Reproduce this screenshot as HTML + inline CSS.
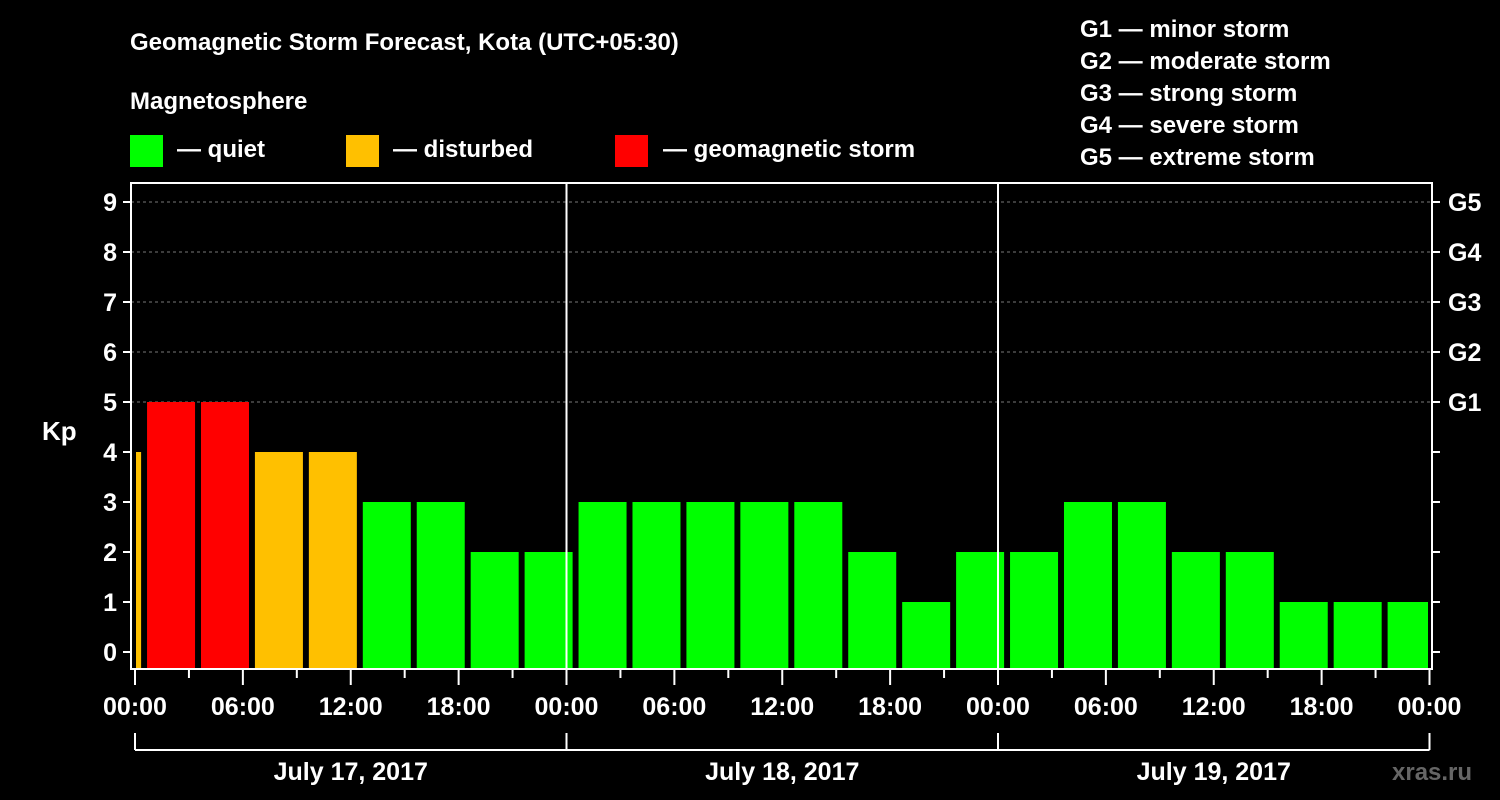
<!DOCTYPE html>
<html><head><meta charset="utf-8"><style>
body{margin:0;background:#000;}
svg{display:block;font-family:"Liberation Sans",Arial,sans-serif;font-weight:bold;}
</style></head><body>
<svg width="1500" height="800" viewBox="0 0 1500 800">
<rect width="1500" height="800" fill="#000"/>
<text x="130" y="50" fill="#fff" font-size="24">Geomagnetic Storm Forecast, Kota (UTC+05:30)</text>
<text x="130" y="109" fill="#fff" font-size="24">Magnetosphere</text>
<g>
<rect x="130" y="135" width="33" height="32" fill="#00ff00"/>
<text x="177" y="157" fill="#fff" font-size="24">— quiet</text>
<rect x="346" y="135" width="33" height="32" fill="#ffc000"/>
<text x="393" y="157" fill="#fff" font-size="24">— disturbed</text>
<rect x="615" y="135" width="33" height="32" fill="#ff0000"/>
<text x="663" y="157" fill="#fff" font-size="24">— geomagnetic storm</text>
</g>
<g fill="#fff" font-size="24">
<text x="1080" y="37">G1 — minor storm</text>
<text x="1080" y="69">G2 — moderate storm</text>
<text x="1080" y="101">G3 — strong storm</text>
<text x="1080" y="133">G4 — severe storm</text>
<text x="1080" y="165">G5 — extreme storm</text>
</g>
<text x="42" y="440" fill="#fff" font-size="26">Kp</text>
<text x="1392" y="780" fill="#666" font-size="24">xras.ru</text>
<g id="chart"></g>
</svg>
<script>
const kpValues=[4,5,5,4,4,3,3,2,2,3,3,3,3,3,2,1,2,2,3,3,2,2,1,1,1];
const yTicks=[0,1,2,3,4,5,6,7,8,9];
const gLabels=["G1","G2","G3","G4","G5"];
const gLevels=[5,6,7,8,9];
const timeLabels=["00:00","06:00","12:00","18:00"];
const dayLabels=["July 17, 2017","July 18, 2017","July 19, 2017"];
const NS="http://www.w3.org/2000/svg";
const g=document.getElementById('chart');
const L=131,R=1432,T=183,B=669;
const x0=135,dayW=431.5;
const xH=h=>x0+h*dayW/24;
const yK=k=>652-k*50;
function mk(t,a){const e=document.createElementNS(NS,t);for(const k in a)e.setAttribute(k,a[k]);g.appendChild(e);return e;}
const clip=mk('clipPath',{id:'pc'});
const cr=document.createElementNS(NS,'rect');cr.setAttribute('x',136);cr.setAttribute('y',T);cr.setAttribute('width',1428-136);cr.setAttribute('height',B-T);clip.appendChild(cr);
// grid
gLevels.forEach(k=>{const l=mk('line',{x1:L,x2:R,y1:yK(k),y2:yK(k),stroke:'#777','stroke-dasharray':'3,3'});

});
// bars
kpValues.forEach((v,i)=>{
 const start=-2.5+3*i+0.17;
 const c=v>=5?'#ff0000':(v>=4?'#ffc000':'#00ff00');
 const r=mk('rect',{x:xH(start),y:yK(v),width:48,height:668-yK(v),fill:c,'clip-path':'url(#pc)'});
 
 
});
// day separators
[1,2].forEach(d=>{const l=mk('line',{x1:xH(24*d),x2:xH(24*d),y1:T,y2:B,stroke:'#fff','stroke-width':2});

});
// frame
const f=mk('rect',{x:L,y:T,width:R-L,height:B-T,fill:'none',stroke:'#fff','stroke-width':2});


// y ticks
yTicks.forEach(k=>{
 mk('line',{x1:L-8,x2:L,y1:yK(k),y2:yK(k),stroke:'#fff','stroke-width':2});
 mk('line',{x1:R,x2:R+8,y1:yK(k),y2:yK(k),stroke:'#fff','stroke-width':2});
 const t=mk('text',{x:L-14,y:yK(k)+9,fill:'#fff','font-size':25,'text-anchor':'end'});t.textContent=k;
 
 
});
gLabels.forEach((s,i)=>{const t=mk('text',{x:1448,y:yK(gLevels[i])+9,fill:'#fff','font-size':25});t.textContent=s;
 
 });
// x ticks
for(let h=0;h<=72;h+=3){const major=h%6===0;mk('line',{x1:xH(h),x2:xH(h),y1:B,y2:major?685:678,stroke:'#fff','stroke-width':2});}
for(let h=0;h<=72;h+=6){const t=mk('text',{x:xH(h),y:715,fill:'#fff','font-size':25,'text-anchor':'middle'});t.textContent=timeLabels[(h/6)%4];
 
 }
// day brackets
mk('line',{x1:xH(0),x2:xH(72),y1:750,y2:750,stroke:'#fff','stroke-width':2});
for(let d=0;d<=3;d++)mk('line',{x1:xH(24*d),x2:xH(24*d),y1:733,y2:750,stroke:'#fff','stroke-width':2});
dayLabels.forEach((s,d)=>{const t=mk('text',{x:xH(24*d+12),y:780,fill:'#fff','font-size':25,'text-anchor':'middle'});t.textContent=s;
 
 });
</script>
</body></html>
